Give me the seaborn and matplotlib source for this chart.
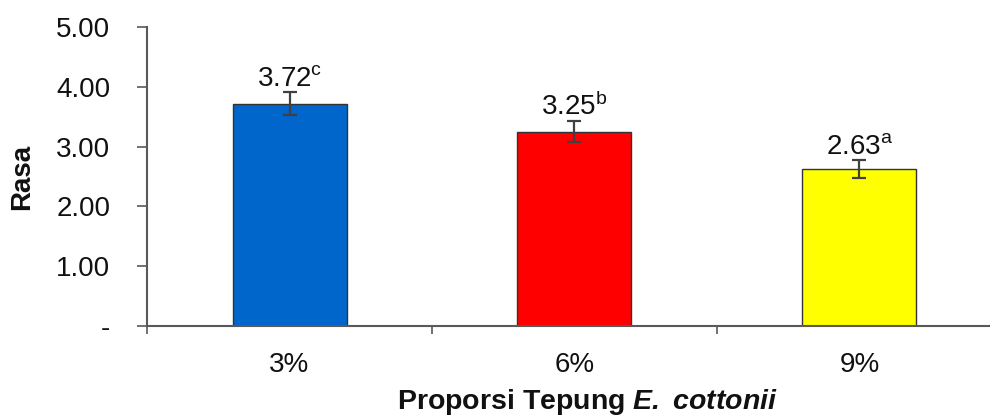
import matplotlib
matplotlib.use("Agg")
import matplotlib.pyplot as plt
import seaborn as sns
import pandas as pd
import numpy as np

# Data
categories = ["3%", "6%", "9%"]
means = [3.72, 3.25, 2.63]
errors = [0.20, 0.17, 0.15]
letters = ["c", "b", "a"]
bar_colors = ["#0066CC", "#FF0000", "#FFFF00"]
y_ticks = [0, 1, 2, 3, 4, 5]
y_tick_labels = ["-", "1.00", "2.00", "3.00", "4.00", "5.00"]

sns.set_theme(style="white")
plt.rcParams["font.family"] = ["Liberation Sans", "DejaVu Sans"]
plt.rcParams["mathtext.fontset"] = "custom"
plt.rcParams["mathtext.rm"] = "Liberation Sans"
plt.rcParams["mathtext.it"] = "Liberation Sans:italic"
plt.rcParams["mathtext.bf"] = "Liberation Sans:bold"
plt.rcParams["mathtext.bfit"] = "Liberation Sans:italic:bold"

df = pd.DataFrame({"Proporsi": categories, "Rasa": means})

fig = plt.figure(figsize=(9.9, 4.19), dpi=100)
ax = fig.add_axes([0.1485, 0.222, 0.8636, 0.7136])

sns.barplot(data=df, x="Proporsi", y="Rasa", hue="Proporsi",
            palette=bar_colors, order=categories, hue_order=categories,
            saturation=1, width=0.40, edgecolor="#333333", linewidth=1.0,
            errorbar=None, legend=False, ax=ax)

xpos = np.arange(len(categories))
ax.errorbar(xpos, means, yerr=errors, fmt="none", ecolor="#404040",
            elinewidth=1.6, capsize=4.7, capthick=1.6, zorder=5)

text_color = "#111111"
for x, m, e, l in zip(xpos, means, errors, letters):
    ax.annotate(f"{m:.2f}" + r"$^{\mathrm{" + l + "}}$", xy=(x, m + e),
                xytext=(0, 0), textcoords="offset points",
                ha="center", va="bottom", fontsize=20, color=text_color)

ax.set_ylim(0, 5)
ax.set_xlim(-0.5, 2.5)
ax.set_yticks(y_ticks)
ax.set_yticklabels(y_tick_labels, fontsize=20, color=text_color)
ax.set_xticks(xpos)
ax.set_xticklabels(categories, fontsize=20, color=text_color)
ax.set_xticks([-0.5, 0.5, 1.5], minor=True)

ax.tick_params(axis="y", which="major", length=7, width=1.2, color="#595959",
               direction="out", left=True, pad=19.5)
ax.tick_params(axis="x", which="major", length=0, pad=19)
ax.tick_params(axis="x", which="minor", length=6, width=1.2, color="#595959",
               direction="out", bottom=True)

for side in ["top", "right"]:
    ax.spines[side].set_visible(False)
for side in ["left", "bottom"]:
    ax.spines[side].set_color("#595959")
    ax.spines[side].set_linewidth(1.5)

ax.set_ylabel("Rasa", fontsize=20, fontweight="bold", color=text_color)
ax.yaxis.set_label_coords(-0.131, 0.5)
ax.set_xlabel(r"Proporsi Tepung $\mathbfit{E.}$ $\mathbfit{cottonii}$", fontsize=20.5,
              fontweight="bold", color=text_color)
ax.xaxis.set_label_coords(0.515, -0.205)

fig.savefig("out.png", dpi=100)
